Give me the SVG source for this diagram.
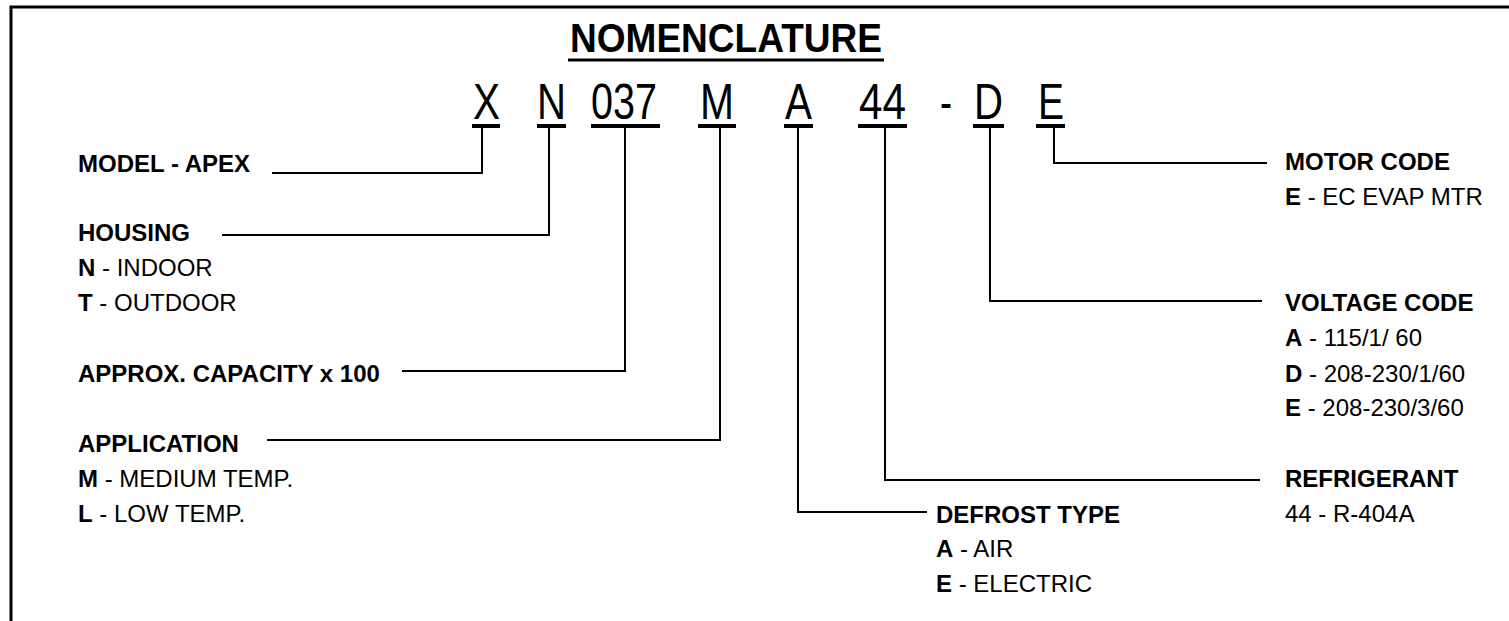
<svg xmlns="http://www.w3.org/2000/svg" width="1509" height="621" viewBox="0 0 1509 621">
<style>
.t{font-family:"Liberation Sans",Arial,sans-serif;fill:#000}
.h{font-size:24px;font-weight:bold}
.r{font-size:24px}
.b{font-weight:bold}
.code{font-size:50px}
.ul{stroke:#000;stroke-width:4}
.c{fill:none;stroke:#000;stroke-width:2}
</style>
<rect width="1509" height="621" fill="#fff"/>
<g id="frame"><path d="M11 621 V7 H1509" fill="none" stroke="#000" stroke-width="3"/></g>
<g id="title">
<text class="t" x="570" y="52" font-size="40" font-weight="bold" textLength="312" lengthAdjust="spacingAndGlyphs">NOMENCLATURE</text>
<line x1="568" y1="60" x2="884" y2="60" stroke="#000" stroke-width="3"/>
</g>
<g id="code">
<text class="t code" x="473" y="119" textLength="27" lengthAdjust="spacingAndGlyphs">X</text><line class="ul" x1="472" y1="126" x2="500" y2="126"/>
<text class="t code" x="537" y="119" textLength="29" lengthAdjust="spacingAndGlyphs">N</text><line class="ul" x1="537" y1="126" x2="566" y2="126"/>
<text class="t code" x="591" y="119" textLength="66" lengthAdjust="spacingAndGlyphs">037</text><line class="ul" x1="591" y1="126" x2="660" y2="126"/>
<text class="t code" x="700" y="119" textLength="34" lengthAdjust="spacingAndGlyphs">M</text><line class="ul" x1="698" y1="126" x2="736" y2="126"/>
<text class="t code" x="785" y="119" textLength="27" lengthAdjust="spacingAndGlyphs">A</text><line class="ul" x1="784" y1="126" x2="813" y2="126"/>
<text class="t code" x="859" y="119" textLength="47" lengthAdjust="spacingAndGlyphs">44</text><line class="ul" x1="858" y1="126" x2="907" y2="126"/>
<text class="t code" x="940" y="119" textLength="12" lengthAdjust="spacingAndGlyphs">-</text>
<text class="t code" x="974" y="119" textLength="29" lengthAdjust="spacingAndGlyphs">D</text><line class="ul" x1="973" y1="126" x2="1004" y2="126"/>
<text class="t code" x="1038" y="119" textLength="26" lengthAdjust="spacingAndGlyphs">E</text><line class="ul" x1="1036" y1="126" x2="1065" y2="126"/>
</g>
<g id="connectors">
<path class="c" d="M482 128 V173 H272"/>
<path class="c" d="M549 128 V235 H222"/>
<path class="c" d="M625 128 V371 H402"/>
<path class="c" d="M720 128 V440 H267"/>
<path class="c" d="M798 128 V512 H927"/>
<path class="c" d="M885 128 V480 H1260"/>
<path class="c" d="M990 128 V301 H1262"/>
<path class="c" d="M1054 128 V163 H1267"/>
</g>
<g id="model"><text class="t h" x="78" y="172">MODEL - APEX</text></g>
<g id="housing">
<text class="t h" x="78" y="241">HOUSING</text>
<text class="t r" x="78" y="276"><tspan class="b">N</tspan> - INDOOR</text>
<text class="t r" x="78" y="311"><tspan class="b">T</tspan> - OUTDOOR</text>
</g>
<g id="capacity"><text class="t h" x="78" y="382">APPROX. CAPACITY x 100</text></g>
<g id="application">
<text class="t h" x="78" y="452">APPLICATION</text>
<text class="t r" x="78" y="487"><tspan class="b">M</tspan> - MEDIUM TEMP.</text>
<text class="t r" x="78" y="522"><tspan class="b">L</tspan> - LOW TEMP.</text>
</g>
<g id="defrost">
<text class="t h" x="936" y="523">DEFROST TYPE</text>
<text class="t r" x="936" y="557"><tspan class="b">A</tspan> - AIR</text>
<text class="t r" x="936" y="592"><tspan class="b">E</tspan> - ELECTRIC</text>
</g>
<g id="refrigerant">
<text class="t h" x="1285" y="487">REFRIGERANT</text>
<text class="t r" x="1285" y="522">44 - R-404A</text>
</g>
<g id="voltage">
<text class="t h" x="1285" y="311">VOLTAGE CODE</text>
<text class="t r" x="1285" y="346"><tspan class="b">A</tspan> - 115/1/ 60</text>
<text class="t r" x="1285" y="382"><tspan class="b">D</tspan> - 208-230/1/60</text>
<text class="t r" x="1285" y="416"><tspan class="b">E</tspan> - 208-230/3/60</text>
</g>
<g id="motor">
<text class="t h" x="1285" y="170">MOTOR CODE</text>
<text class="t r" x="1285" y="205"><tspan class="b">E</tspan> - EC EVAP MTR</text>
</g>
</svg>
